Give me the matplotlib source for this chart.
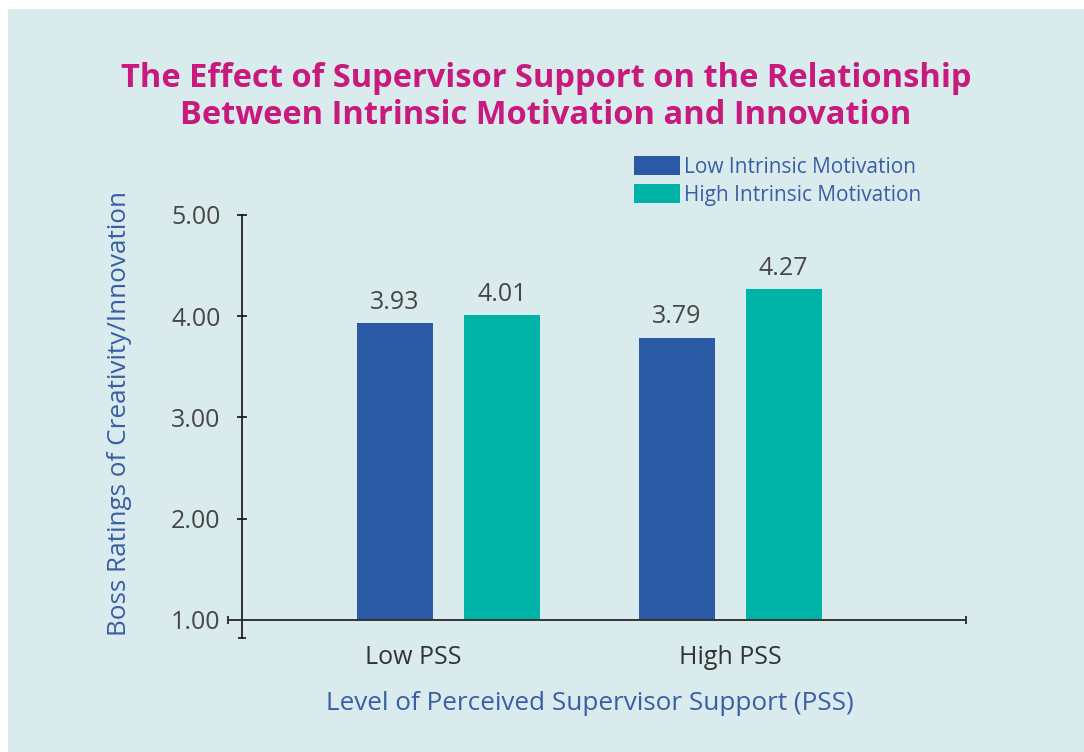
import numpy as np
import matplotlib
matplotlib.use("Agg")
import matplotlib.pyplot as plt

# data
groups = ["Low PSS", "High PSS"]
series = ["Low Intrinsic Motivation", "High Intrinsic Motivation"]
low_im = [3.93, 3.79]
high_im = [4.01, 4.27]
yticks = [1, 2, 3, 4, 5]

plt.rcParams['font.family'] = ['Open Sans', 'DejaVu Sans']

bg = '#daebee'
blue = '#2a5aa6'
teal = '#00b3a7'
txt_blue = '#3a5ea5'
magenta = '#c8197c'
gray = '#474747'

W, H = 1084, 752
fig = plt.figure(figsize=(W / 100, H / 100), dpi=100)
fig.patch.set_facecolor('white')
# light panel with white margin top/left
fig.patches.append(plt.Rectangle((8 / W, 0), 1, 1 - 9 / H, transform=fig.transFigure,
                                 facecolor=bg, edgecolor='none', zorder=-10))

def fx(px):
    return px / W

def fy(py):
    return 1 - py / H

# axes box in pixels: x 228..966, y 215..638
ax = fig.add_axes([fx(228), fy(638), fx(966) - fx(228), fy(215) - fy(638)])
ax.set_facecolor('none')

base = 1.0
x = np.arange(len(groups))
w = 0.27
off = 0.19
ax.bar(x - off, np.array(low_im) - base, w, bottom=base, color=blue, label=series[0], zorder=2)
ax.bar(x + off, np.array(high_im) - base, w, bottom=base, color=teal, label=series[1], zorder=2)

for xs, vals in [(x - off, low_im), (x + off, high_im)]:
    for xi, v in zip(xs, vals):
        ax.annotate(f"{v:.2f}", (xi, v), xytext=(0, 6), textcoords='offset points',
                    ha='center', va='bottom', fontsize=18, color=gray)

xmin, xmax = -0.783, 1.838
yaxis_x = -0.7336
ybot = 0.822
ax.set_xlim(xmin, xmax)
ax.set_ylim(ybot, 5.0)

for s in ['top', 'right']:
    ax.spines[s].set_visible(False)
ax.spines['left'].set_position(('data', yaxis_x))
ax.spines['left'].set_bounds(ybot, 5.0)
ax.spines['left'].set_color('#111111')
ax.spines['left'].set_linewidth(1.2)
ax.spines['bottom'].set_position(('data', base))
ax.spines['bottom'].set_color('#333333')
ax.spines['bottom'].set_linewidth(1.4)

ax.set_yticks(yticks)
ax.set_yticklabels([f"{t:.2f}" for t in yticks], fontsize=18, color=gray)
ax.tick_params(axis='y', direction='inout', length=7, width=1.2, pad=12, colors='#111111',
               labelcolor=gray)
ax.set_xticks(x + np.array([-0.125, 0.0]))
ax.set_xticklabels(groups, fontsize=18, color='#333333')
ax.tick_params(axis='x', length=0, pad=18)

# end caps on the axis lines
ax.plot([xmin, xmax], [base, base], ls='none', marker='|', ms=6, mew=1.4, color='#333333',
        clip_on=False, zorder=3)
ax.plot([yaxis_x], [ybot], ls='none', marker='_', ms=6, mew=1.2, color='#111111',
        clip_on=False, zorder=3)

# title
fig.text(fx(546), fy(97), "The Effect of Supervisor Support on the Relationship\n"
         "Between Intrinsic Motivation and Innovation", ha='center', va='center',
         fontsize=23.5, fontweight='bold', color=magenta, linespacing=1.15)

# legend
ax.legend(loc='upper left', bbox_to_anchor=(fx(624), fy(146)), bbox_transform=fig.transFigure,
          frameon=False, fontsize=15, labelcolor=txt_blue, handlelength=2.2,
          handleheight=1.0, handletextpad=0.2, labelspacing=0.3, borderpad=0)

# axis titles
fig.text(fx(120), fy(413), "Boss Ratings of Creativity/Innovation", rotation=90,
         ha='center', va='center', fontsize=18.8, color=txt_blue)
fig.text(fx(590), fy(703), "Level of Perceived Supervisor Support (PSS)",
         ha='center', va='center', fontsize=18.8, color=txt_blue)

fig.savefig("out.png", dpi=100, facecolor=fig.get_facecolor())
